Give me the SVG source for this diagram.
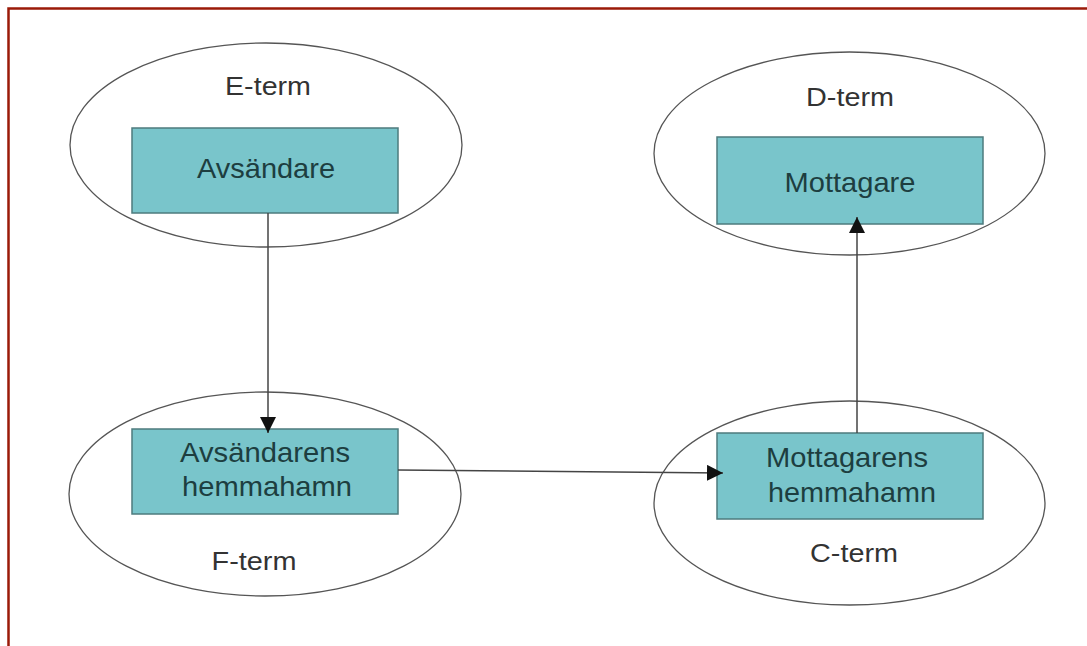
<svg xmlns="http://www.w3.org/2000/svg" width="1087" height="646" viewBox="0 0 1087 646">
<style>
.term{fill:#fff;stroke:#555;stroke-width:1.3}
.box{fill:#79c5cb;stroke:#4d7b7e;stroke-width:1.5}
.lbl{font-family:"Liberation Sans",Arial,sans-serif;font-size:25px;text-anchor:middle;fill:#333}
.btxt{font-family:"Liberation Sans",Arial,sans-serif;font-size:28px;text-anchor:middle;fill:#1d3e40}
.conn{stroke:#444;stroke-width:1.5;fill:none}
</style>
<defs>
<marker id="arr" viewBox="0 0 16 16" refX="16" refY="8" markerWidth="16" markerHeight="16" markerUnits="userSpaceOnUse" orient="auto">
<path d="M0,0 L16,8 L0,16 Z" fill="#111"/>
</marker>
</defs>
<rect x="0" y="0" width="1087" height="646" fill="#fff"/>
<rect x="8.5" y="8.5" width="1100" height="700" fill="none" stroke="#9a1a08" stroke-width="2.5"/>
<g id="e-term">
<ellipse class="term" cx="266" cy="145" rx="196" ry="102"/>
<text class="lbl" x="268" y="95" textLength="86" lengthAdjust="spacingAndGlyphs">E-term</text>
</g>
<g id="avsandare">
<rect class="box" x="132" y="128" width="266" height="85"/>
<text class="btxt" x="266" y="178" textLength="138" lengthAdjust="spacingAndGlyphs">Avsändare</text>
</g>
<g id="d-term">
<ellipse class="term" cx="849.5" cy="153.5" rx="195.5" ry="101.5"/>
<text class="lbl" x="850" y="106" textLength="88" lengthAdjust="spacingAndGlyphs">D-term</text>
</g>
<g id="mottagare">
<rect class="box" x="717" y="137" width="266" height="87"/>
<text class="btxt" x="850" y="192" textLength="131" lengthAdjust="spacingAndGlyphs">Mottagare</text>
</g>
<g id="f-term">
<ellipse class="term" cx="265" cy="494" rx="196" ry="102"/>
<text class="lbl" x="254" y="570" textLength="85" lengthAdjust="spacingAndGlyphs">F-term</text>
</g>
<g id="avsandarens-hemmahamn">
<rect class="box" x="132" y="429" width="266" height="85"/>
<text class="btxt" x="265" y="462" textLength="170" lengthAdjust="spacingAndGlyphs">Avsändarens</text>
<text class="btxt" x="267" y="496" textLength="170" lengthAdjust="spacingAndGlyphs">hemmahamn</text>
</g>
<g id="c-term">
<ellipse class="term" cx="849.5" cy="503" rx="195.5" ry="102"/>
<text class="lbl" x="854" y="562" textLength="88" lengthAdjust="spacingAndGlyphs">C-term</text>
</g>
<g id="mottagarens-hemmahamn">
<rect class="box" x="717" y="433" width="266" height="86"/>
<text class="btxt" x="847" y="467" textLength="162" lengthAdjust="spacingAndGlyphs">Mottagarens</text>
<text class="btxt" x="852" y="502" textLength="168" lengthAdjust="spacingAndGlyphs">hemmahamn</text>
</g>
<g id="connectors">
<line class="conn" x1="268" y1="213" x2="268" y2="433" marker-end="url(#arr)"/>
<line class="conn" x1="398" y1="470" x2="723" y2="473" marker-end="url(#arr)"/>
<line class="conn" x1="857" y1="433" x2="857" y2="217" marker-end="url(#arr)"/>
</g>
</svg>
